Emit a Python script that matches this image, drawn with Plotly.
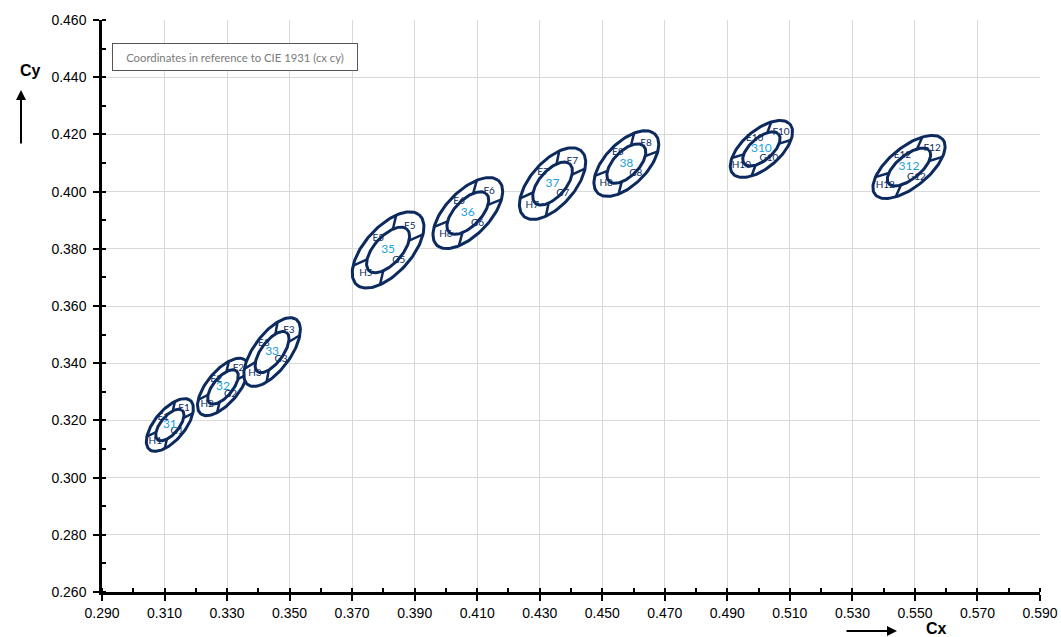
import numpy as np
import plotly.graph_objects as go

# ---- data ----
bins = ["1", "2", "3", "5", "6", "7", "8", "10", "12"]
cx = [0.3117, 0.3287, 0.3444, 0.3815, 0.4070, 0.4341, 0.4577, 0.5009, 0.5481]
cy = [0.3184, 0.3317, 0.3439, 0.3796, 0.3925, 0.4028, 0.4098, 0.4149, 0.4086]
semi_a = [0.0108, 0.0118, 0.0138, 0.0158, 0.0150, 0.0147, 0.0138, 0.0126, 0.0145]
semi_b = [0.0050, 0.0053, 0.0060, 0.0077, 0.0073, 0.0073, 0.0070, 0.0063, 0.0067]
theta_deg = [54, 54, 57, 52, 50, 53, 50, 45, 43]
x_ticks = [0.29 + 0.02 * i for i in range(16)]
y_ticks = [0.26 + 0.02 * i for i in range(11)]

NAVY = "#0c2a5e"
BLUE = "#1c9fdc"
INNER = 0.6


def pt(i, sa, sb):
    th = np.radians(theta_deg[i])
    a, b = semi_a[i] * sa, semi_b[i] * sb
    x = cx[i] + a * np.cos(th) - b * np.sin(th)
    y = cy[i] + a * np.sin(th) + b * np.cos(th)
    return x, y


def ellipse(i, scale):
    t = np.linspace(0, 2 * np.pi, 121)
    return pt(i, scale * np.cos(t), scale * np.sin(t))


fig = go.Figure()

for i in range(len(bins)):
    ox, oy = ellipse(i, 1.0)
    fig.add_trace(go.Scatter(x=ox, y=oy, mode="lines", fill="toself",
                             fillcolor="white", line=dict(color=NAVY, width=3),
                             hoverinfo="skip", showlegend=False))
    ix, iy = ellipse(i, INNER)
    fig.add_trace(go.Scatter(x=ix, y=iy, mode="lines",
                             line=dict(color=NAVY, width=3),
                             hoverinfo="skip", showlegend=False))
    sx, sy = [], []
    for ang in (45, 135, 225, 315):
        r = np.radians(ang)
        x0, y0 = pt(i, INNER * np.cos(r), INNER * np.sin(r))
        x1, y1 = pt(i, np.cos(r), np.sin(r))
        sx += [x0, x1, None]
        sy += [y0, y1, None]
    fig.add_trace(go.Scatter(x=sx, y=sy, mode="lines",
                             line=dict(color=NAVY, width=2.5),
                             hoverinfo="skip", showlegend=False))
    # sub-bin labels
    lab_pos = {"E": (0.08, 0.64), "F": (0.68, -0.05), "G": (-0.05, -0.64), "H": (-0.68, 0.08)}
    lx, ly, lt = [], [], []
    for k, (pa, pb) in lab_pos.items():
        x, y = pt(i, pa, pb)
        lx.append(x)
        ly.append(y)
        lt.append(k + bins[i])
    fig.add_trace(go.Scatter(x=lx, y=ly, mode="text", text=lt,
                             textfont=dict(family="Lato", size=10, color=NAVY),
                             hoverinfo="skip", showlegend=False))
    fig.add_trace(go.Scatter(x=[cx[i]], y=[cy[i]], mode="text", text=["3" + bins[i]],
                             textfont=dict(family="Lato", size=12, color=BLUE),
                             hoverinfo="skip", showlegend=False))

axis_common = dict(
    showgrid=True, gridcolor="#d9d9d9", gridwidth=1,
    showline=True, linecolor="black", linewidth=2.5,
    ticks="outside", ticklen=6, tickwidth=2, tickcolor="black",
    tickformat=".3f", automargin=False,
    tickfont=dict(family="Liberation Sans", size=14, color="black"),
    zeroline=False,
)

fig.update_xaxes(range=[0.29, 0.59], tickvals=x_ticks,
                 minor=dict(dtick=0.01, ticks="inside", ticklen=4, tickwidth=2,
                            tickcolor="black", showgrid=False),
                 **axis_common)
fig.update_yaxes(range=[0.26, 0.46], tickvals=y_ticks, ticklabelstandoff=4,
                 minor=dict(dtick=0.01, ticks="inside", ticklen=4, tickwidth=2,
                            tickcolor="black", showgrid=False),
                 **axis_common)

# overlay axes: inside half of the major ticks (so they cross the axis line)
overlay_common = dict(ticks="inside", ticklen=6, tickwidth=2, tickcolor="black",
                      showticklabels=False, showgrid=False, showline=False,
                      zeroline=False, automargin=False)
fig.update_layout(
    xaxis2=dict(overlaying="x", side="bottom", range=[0.29, 0.59],
                tickvals=x_ticks, anchor="y", **overlay_common),
    yaxis2=dict(overlaying="y", side="left", range=[0.26, 0.46],
                tickvals=y_ticks, anchor="x", **overlay_common),
)

PW, PH, L, B = 938, 572, 102, 592


def px(xp):
    return (xp - L) / PW


def py(yp):
    return (B - yp) / PH


annotations = [
    dict(x=px(30), y=py(70), xref="paper", yref="paper", text="<b>Cy</b>",
         xanchor="center", yanchor="middle",
         showarrow=False, font=dict(family="Liberation Sans", size=16, color="black")),
    dict(x=px(936), y=py(629), xref="paper", yref="paper", text="<b>Cx</b>",
         xanchor="center", yanchor="middle",
         showarrow=False, font=dict(family="Liberation Sans", size=16, color="black")),
    dict(x=px(21), y=py(90), xref="paper", yref="paper", text="", showarrow=True,
         ax=0, ay=55, arrowhead=2, arrowsize=1, arrowwidth=2, arrowcolor="black"),
    dict(x=px(897), y=py(631), xref="paper", yref="paper", text="", showarrow=True,
         ax=-52, ay=0, arrowhead=2, arrowsize=1, arrowwidth=2, arrowcolor="black"),
    dict(x=px(235), y=py(57), xref="paper", yref="paper",
         xanchor="center", yanchor="middle",
         text="Coordinates in reference to CIE 1931 (cx cy)", showarrow=False,
         font=dict(family="Lato", size=11.3, color="#7a7a7a"),
         bordercolor="#555555", borderwidth=1, bgcolor="white",
         width=242, height=24),
]

fig.update_layout(
    width=1061, height=637,
    margin=dict(l=L, r=21, t=20, b=45),
    plot_bgcolor="white", paper_bgcolor="white",
    annotations=annotations,
    showlegend=False,
)

fig.write_html("out.html", config={"displayModeBar": False},
               post_script="document.body.style.margin='0px';")
